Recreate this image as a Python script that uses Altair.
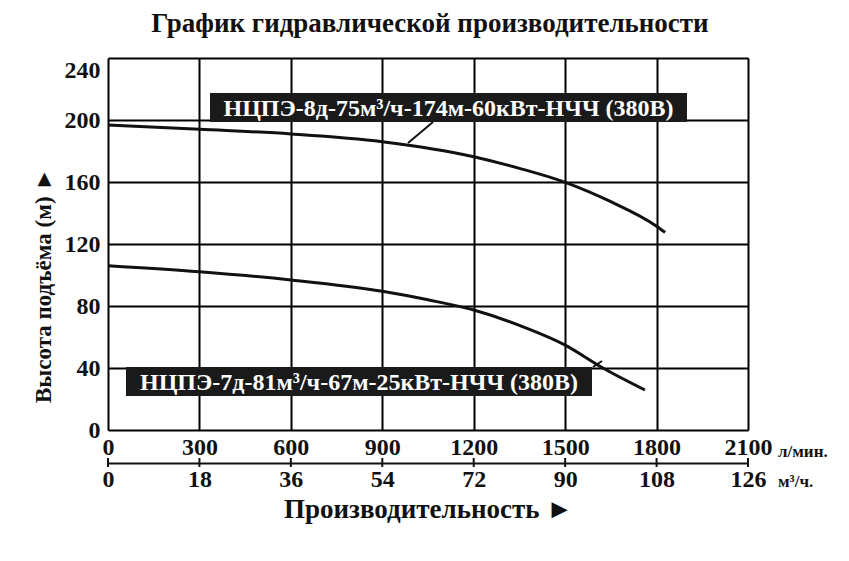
import altair as alt
import pandas as pd

# ---- data ----
Q_8D = [0, 300, 600, 900, 1200, 1350, 1500, 1650, 1800, 1828]
H_8D = [196.8, 194.0, 191.0, 186.0, 176.3, 168.8, 159.8, 147.3, 131.5, 127.5]
Q_7D = [0, 300, 600, 900, 1050, 1200, 1350, 1500, 1624, 1762]
H_7D = [106.0, 102.1, 96.8, 89.5, 84.0, 77.4, 67.5, 54.8, 40.0, 25.8]
LABEL_8D = "НЦПЭ-8д-75м³/ч-174м-60кВт-НЧЧ (380В)"
LABEL_7D = "НЦПЭ-7д-81м³/ч-67м-25кВт-НЧЧ (380В)"
X_TICKS_LMIN = [0, 300, 600, 900, 1200, 1500, 1800, 2100]
X_TICKS_M3 = [0, 18, 36, 54, 72, 90, 108, 126]
Y_TICKS = [0, 40, 80, 120, 160, 200, 240]
TITLE = "График гидравлической производительности"
Y_TITLE = "Высота подъёма (м) ►"
X_TITLE = "Производительность ►"
UNIT_LMIN = "л/мин."
UNIT_M3 = "м³/ч."

FONT = "Liberation Serif"
INK = "#111111"
W, H = 640, 372

curves = pd.concat([
    pd.DataFrame({"Q": Q_8D, "H": H_8D, "model": LABEL_8D}),
    pd.DataFrame({"Q": Q_7D, "H": H_7D, "model": LABEL_7D}),
])

lines = alt.Chart(curves).mark_line(
    color=INK, strokeWidth=3, interpolate="monotone"
).encode(
    x=alt.X("Q:Q", scale=alt.Scale(domain=[0, 2100], nice=False),
            axis=alt.Axis(values=X_TICKS_LMIN, orient="bottom", format="d",
                          grid=True, gridColor="black", gridWidth=2,
                          domain=False, ticks=False, labelPadding=5,
                          labelFlush=False,
                          labelFont=FONT, labelFontSize=24, labelFontWeight="bold",
                          labelColor=INK,
                          title=X_TITLE, titleFont=FONT, titleFontSize=27,
                          titleFontWeight="bold", titleColor=INK,
                          titleX=320, titleY=87, titleBaseline="alphabetic",
                          titleAlign="center")),
    y=alt.Y("H:Q", scale=alt.Scale(domain=[0, 240], nice=False),
            axis=alt.Axis(values=Y_TICKS, format="d", grid=True,
                          gridColor="black", gridWidth=2, domain=False,
                          ticks=False, labelPadding=8, labelFlush=False,
                          labelFont=FONT, labelFontSize=24,
                          labelFontWeight="bold", labelColor=INK,
                          labelBaseline=alt.expr("datum.value == 240 ? 'top' : 'middle'"),
                          title=Y_TITLE, titleFont=FONT, titleFontSize=23,
                          titleFontWeight="bold", titleColor=INK,
                          titleAngle=270, titleX=-65, titleY=227,
                          titleAlign="center", titleBaseline="middle")),
    detail="model:N",
)

one = pd.DataFrame({"k": [0]})


def text_layer(text, x, y, size, align="center", baseline="alphabetic",
               color=INK):
    return alt.Chart(one).mark_text(
        font=FONT, fontSize=size, fontWeight="bold", color=color,
        align=align, baseline=baseline
    ).encode(x=alt.value(x), y=alt.value(y), text=alt.value(text))


def label_layer(text, x0, x1, y0, y1):
    box = alt.Chart(one).mark_rect(color="#1a1a1a").encode(
        x=alt.value(x0), x2=alt.value(x1), y=alt.value(y0), y2=alt.value(y1))
    txt = alt.Chart(one).mark_text(
        font=FONT, fontSize=24, fontWeight="bold", color="white",
        align="center", baseline="middle", dy=1
    ).encode(x=alt.value((x0 + x1) / 2), y=alt.value((y0 + y1) / 2),
             text=alt.value(text))
    return box + txt


title = text_layer(TITLE, 322, -26, 27)

lab8 = label_layer(LABEL_8D, 102, 579, 35, 64)
lab7 = label_layer(LABEL_7D, 18, 484, 309, 338)

leader8 = alt.Chart(one).mark_rule(color=INK, strokeWidth=2).encode(
    x=alt.value(325), y=alt.value(64), x2=alt.value(300), y2=alt.value(85))
leader7 = alt.Chart(one).mark_rule(color=INK, strokeWidth=2).encode(
    x=alt.value(485), y=alt.value(309), x2=alt.value(494), y2=alt.value(303))

unit1 = text_layer(UNIT_LMIN, 670, 399, 17, align="left")
unit2 = text_layer(UNIT_M3, 670, 429, 17, align="left")

m3 = pd.DataFrame({"m3": X_TICKS_M3})
m3_ticks = alt.Chart(m3).mark_rule(color=INK, strokeWidth=2).encode(
    x=alt.X("m3:Q", scale=alt.Scale(domain=[0, 126], nice=False),
            axis=alt.Axis(values=X_TICKS_M3, orient="bottom", offset=33,
                          format="d", grid=False, domain=True,
                          domainColor=INK, domainWidth=2, ticks=False,
                          labelPadding=4, labelFlush=False,
                          labelFont=FONT, labelFontSize=24,
                          labelFontWeight="bold", labelColor=INK, title=None)),
    y=alt.value(400), y2=alt.value(409),
)

chart = alt.layer(
    lines, lab8, lab7, leader8, leader7, unit1, unit2, title, m3_ticks
).resolve_scale(x="independent").properties(
    width=W, height=H,
    autosize=alt.AutoSizeParams(type="none"),
    padding={"left": 100, "top": 50, "right": 85, "bottom": 100},
).configure_view(stroke="black", strokeWidth=2).configure(background="white")

chart.save("out.html", embed_options={"renderer": "svg", "actions": False})
